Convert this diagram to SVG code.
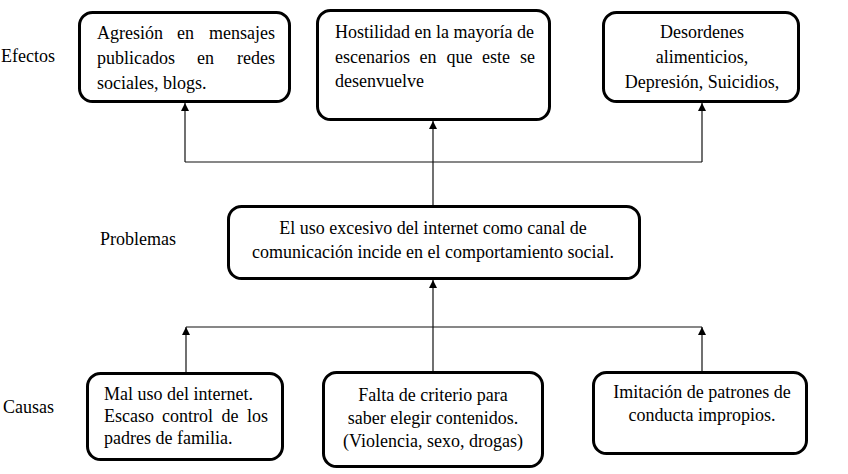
<svg xmlns="http://www.w3.org/2000/svg" width="848" height="474" viewBox="0 0 848 474">
<style>
.box{fill:#fff;stroke:#000;stroke-width:3}
.t{font-family:'Liberation Serif','DejaVu Serif','Times New Roman',serif;font-size:18px;fill:#000}
.c{text-anchor:middle}
.e{text-anchor:end}
.ln{fill:none;stroke:#111;stroke-width:1.2}
</style>
<defs>
<marker id="arr" viewBox="0 0 10 10" refX="10" refY="5" markerWidth="10" markerHeight="8" markerUnits="userSpaceOnUse" orient="auto"><path d="M0,0 L10,5 L0,10 z" fill="#000"/></marker>
</defs>
<rect width="848" height="474" fill="#fff"/>
<g id="labels">
<text class="t" x="1" y="62">Efectos</text>
<text class="t" x="100" y="245">Problemas</text>
<text class="t" x="3" y="413">Causas</text>
</g>
<g id="connectors">
<path class="ln" d="M185,162 H702"/>
<path class="ln" d="M185,162 V103" marker-end="url(#arr)"/>
<path class="ln" d="M702,162 V103" marker-end="url(#arr)"/>
<path class="ln" d="M433,206 V121" marker-end="url(#arr)"/>
<path class="ln" d="M186,327 H702"/>
<path class="ln" d="M186,372 V327" marker-end="url(#arr)"/>
<path class="ln" d="M702,371 V327" marker-end="url(#arr)"/>
<path class="ln" d="M433,371 V280" marker-end="url(#arr)"/>
</g>
<g id="efecto1">
<rect class="box" x="79.5" y="12.5" width="210" height="89" rx="13"/>
<text class="t" y="39"><tspan x="97">Agresión</tspan><tspan x="177">en</tspan><tspan x="275" class="e">mensajes</tspan></text>
<text class="t" y="64"><tspan x="97">publicados</tspan><tspan x="197">en</tspan><tspan x="275" class="e">redes</tspan></text>
<text class="t" x="97" y="89">sociales, blogs.</text>
</g>
<g id="efecto2">
<rect class="box" x="317.5" y="10.5" width="232" height="109" rx="13"/>
<text class="t" x="335" y="38">Hostilidad en la mayoría de</text>
<text class="t" y="63"><tspan x="335">escenarios</tspan><tspan x="419.5">en</tspan><tspan x="446.5">que</tspan><tspan x="482">este</tspan><tspan x="535" class="e">se</tspan></text>
<text class="t" x="335" y="87">desenvuelve</text>
</g>
<g id="efecto3">
<rect class="box" x="603.5" y="12.5" width="195" height="89" rx="13"/>
<text class="t c" x="702" y="38">Desordenes</text>
<text class="t c" x="702" y="63">alimenticios,</text>
<text class="t c" x="702" y="88">Depresión, Suicidios,</text>
</g>
<g id="problema">
<rect class="box" x="228.5" y="206.5" width="411" height="72" rx="13"/>
<text class="t c" x="433" y="234">El uso excesivo del internet como canal de</text>
<text class="t c" x="433" y="258">comunicación incide en el comportamiento social.</text>
</g>
<g id="causa1">
<rect class="box" x="87.5" y="373.5" width="195" height="86" rx="13"/>
<text class="t" x="104" y="400">Mal uso del internet.</text>
<text class="t" y="422"><tspan x="104">Escaso</tspan><tspan x="162">control</tspan><tspan x="221.5">de</tspan><tspan x="268" class="e">los</tspan></text>
<text class="t" x="104" y="444">padres de familia.</text>
</g>
<g id="causa2">
<rect class="box" x="323.5" y="372.5" width="219" height="94" rx="13"/>
<text class="t c" x="433" y="401">Falta de criterio para</text>
<text class="t c" x="433" y="424">saber elegir contenidos.</text>
<text class="t c" x="433" y="447">(Violencia, sexo, drogas)</text>
</g>
<g id="causa3">
<rect class="box" x="593.5" y="372.5" width="213" height="81" rx="13"/>
<text class="t c" x="702" y="398">Imitación de patrones de</text>
<text class="t c" x="702" y="421">conducta impropios.</text>
</g>
</svg>
